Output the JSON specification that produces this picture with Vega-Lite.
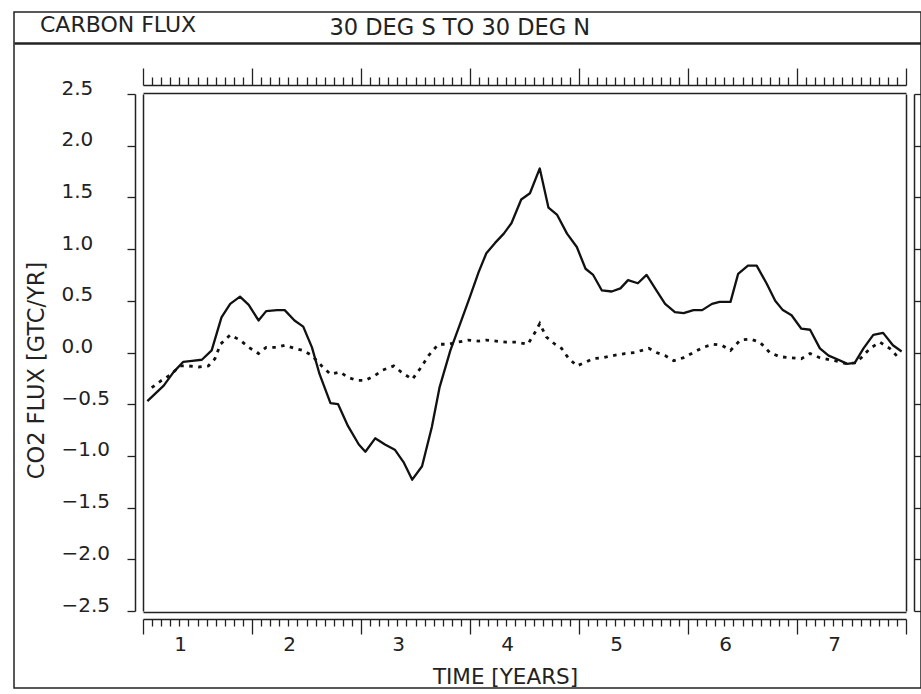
{
  "$schema": "https://vega.github.io/schema/vega-lite/v6.json",
  "width": 907,
  "height": 676,
  "autosize": {"type": "none"},
  "padding": {"left": 14, "top": 12, "right": 0, "bottom": 6},
  "background": "white",
  "title": {"text": "CARBON FLUX", "anchor": "start", "frame": "group", "orient": "top", "offset": -22, "dx": 26, "dy": 20, "baseline": "alphabetic", "fontSize": 22, "font": "DejaVu Sans", "fontWeight": "normal", "color": "#222"},
  "datasets": {
    "solid": [
      {"t": 0.70, "flux": -0.47}, {"t": 0.85, "flux": -0.32}, {"t": 0.94, "flux": -0.19}, {"t": 1.03, "flux": -0.09},
      {"t": 1.11, "flux": -0.08}, {"t": 1.20, "flux": -0.07}, {"t": 1.29, "flux": 0.02}, {"t": 1.38, "flux": 0.34},
      {"t": 1.46, "flux": 0.47}, {"t": 1.55, "flux": 0.54}, {"t": 1.63, "flux": 0.46}, {"t": 1.72, "flux": 0.31},
      {"t": 1.79, "flux": 0.40}, {"t": 1.89, "flux": 0.41}, {"t": 1.96, "flux": 0.41}, {"t": 2.05, "flux": 0.31},
      {"t": 2.13, "flux": 0.25}, {"t": 2.21, "flux": 0.05}, {"t": 2.28, "flux": -0.21}, {"t": 2.38, "flux": -0.49},
      {"t": 2.45, "flux": -0.50}, {"t": 2.54, "flux": -0.71}, {"t": 2.64, "flux": -0.89}, {"t": 2.70, "flux": -0.96},
      {"t": 2.79, "flux": -0.83}, {"t": 2.88, "flux": -0.89}, {"t": 2.97, "flux": -0.94}, {"t": 3.05, "flux": -1.06},
      {"t": 3.13, "flux": -1.23}, {"t": 3.22, "flux": -1.10}, {"t": 3.31, "flux": -0.72}, {"t": 3.38, "flux": -0.34},
      {"t": 3.48, "flux": 0.02}, {"t": 3.57, "flux": 0.28}, {"t": 3.66, "flux": 0.54}, {"t": 3.74, "flux": 0.78},
      {"t": 3.81, "flux": 0.96}, {"t": 3.89, "flux": 1.06}, {"t": 3.97, "flux": 1.15}, {"t": 4.04, "flux": 1.25},
      {"t": 4.13, "flux": 1.48}, {"t": 4.21, "flux": 1.54}, {"t": 4.30, "flux": 1.78}, {"t": 4.38, "flux": 1.40},
      {"t": 4.46, "flux": 1.33}, {"t": 4.55, "flux": 1.15}, {"t": 4.64, "flux": 1.02}, {"t": 4.72, "flux": 0.81},
      {"t": 4.79, "flux": 0.75}, {"t": 4.87, "flux": 0.60}, {"t": 4.96, "flux": 0.59}, {"t": 5.04, "flux": 0.62},
      {"t": 5.11, "flux": 0.70}, {"t": 5.20, "flux": 0.67}, {"t": 5.28, "flux": 0.75}, {"t": 5.37, "flux": 0.60},
      {"t": 5.45, "flux": 0.47}, {"t": 5.54, "flux": 0.39}, {"t": 5.62, "flux": 0.38}, {"t": 5.71, "flux": 0.41},
      {"t": 5.79, "flux": 0.41}, {"t": 5.88, "flux": 0.47}, {"t": 5.95, "flux": 0.49}, {"t": 6.05, "flux": 0.49},
      {"t": 6.12, "flux": 0.76}, {"t": 6.21, "flux": 0.84}, {"t": 6.29, "flux": 0.84}, {"t": 6.38, "flux": 0.67},
      {"t": 6.46, "flux": 0.50}, {"t": 6.53, "flux": 0.41}, {"t": 6.61, "flux": 0.36}, {"t": 6.70, "flux": 0.23},
      {"t": 6.78, "flux": 0.22}, {"t": 6.87, "flux": 0.04}, {"t": 6.95, "flux": -0.03}, {"t": 7.04, "flux": -0.07},
      {"t": 7.12, "flux": -0.11}, {"t": 7.19, "flux": -0.10}, {"t": 7.27, "flux": 0.04}, {"t": 7.36, "flux": 0.17},
      {"t": 7.45, "flux": 0.19}, {"t": 7.54, "flux": 0.07}, {"t": 7.62, "flux": 0.01}
    ],
    "dotted": [
      {"t": 0.74, "flux": -0.34}, {"t": 0.83, "flux": -0.27}, {"t": 0.92, "flux": -0.21}, {"t": 1.00, "flux": -0.13},
      {"t": 1.08, "flux": -0.13}, {"t": 1.17, "flux": -0.14}, {"t": 1.26, "flux": -0.13}, {"t": 1.32, "flux": -0.06},
      {"t": 1.37, "flux": 0.08}, {"t": 1.46, "flux": 0.17}, {"t": 1.55, "flux": 0.12}, {"t": 1.63, "flux": 0.05},
      {"t": 1.72, "flux": -0.01}, {"t": 1.79, "flux": 0.05}, {"t": 1.89, "flux": 0.05}, {"t": 1.96, "flux": 0.07},
      {"t": 2.05, "flux": 0.04}, {"t": 2.13, "flux": 0.02}, {"t": 2.21, "flux": -0.03}, {"t": 2.30, "flux": -0.13},
      {"t": 2.38, "flux": -0.21}, {"t": 2.47, "flux": -0.19}, {"t": 2.54, "flux": -0.24}, {"t": 2.62, "flux": -0.27},
      {"t": 2.70, "flux": -0.27}, {"t": 2.79, "flux": -0.22}, {"t": 2.86, "flux": -0.17}, {"t": 2.96, "flux": -0.13},
      {"t": 3.03, "flux": -0.19}, {"t": 3.13, "flux": -0.26}, {"t": 3.20, "flux": -0.16}, {"t": 3.28, "flux": -0.03},
      {"t": 3.37, "flux": 0.08}, {"t": 3.46, "flux": 0.08}, {"t": 3.55, "flux": 0.10}, {"t": 3.64, "flux": 0.12},
      {"t": 3.74, "flux": 0.11}, {"t": 3.81, "flux": 0.12}, {"t": 3.90, "flux": 0.11}, {"t": 3.99, "flux": 0.10},
      {"t": 4.09, "flux": 0.10}, {"t": 4.19, "flux": 0.08}, {"t": 4.26, "flux": 0.20}, {"t": 4.30, "flux": 0.28},
      {"t": 4.36, "flux": 0.15}, {"t": 4.44, "flux": 0.08}, {"t": 4.50, "flux": 0.04}, {"t": 4.56, "flux": -0.05},
      {"t": 4.64, "flux": -0.13}, {"t": 4.73, "flux": -0.09}, {"t": 4.79, "flux": -0.06}, {"t": 4.88, "flux": -0.05},
      {"t": 4.97, "flux": -0.03}, {"t": 5.08, "flux": -0.01}, {"t": 5.17, "flux": 0.00}, {"t": 5.30, "flux": 0.04},
      {"t": 5.37, "flux": 0.00}, {"t": 5.45, "flux": -0.03}, {"t": 5.53, "flux": -0.08}, {"t": 5.62, "flux": -0.05},
      {"t": 5.71, "flux": 0.00}, {"t": 5.80, "flux": 0.05}, {"t": 5.89, "flux": 0.08}, {"t": 5.97, "flux": 0.07},
      {"t": 6.05, "flux": 0.02}, {"t": 6.14, "flux": 0.12}, {"t": 6.23, "flux": 0.13}, {"t": 6.32, "flux": 0.10},
      {"t": 6.41, "flux": 0.00}, {"t": 6.50, "flux": -0.04}, {"t": 6.59, "flux": -0.05}, {"t": 6.70, "flux": -0.06},
      {"t": 6.78, "flux": -0.01}, {"t": 6.87, "flux": -0.05}, {"t": 6.96, "flux": -0.07}, {"t": 7.05, "flux": -0.09},
      {"t": 7.12, "flux": -0.11}, {"t": 7.19, "flux": -0.10}, {"t": 7.25, "flux": -0.05}, {"t": 7.33, "flux": 0.04},
      {"t": 7.42, "flux": 0.10}, {"t": 7.51, "flux": 0.04}, {"t": 7.60, "flux": -0.06}
    ]
  },
  "resolve": {
    "scale": {"x": "independent", "y": "independent"},
    "axis": {"x": "independent", "y": "independent"}
  },
  "layer": [
    {
      "data": {"name": "solid"},
      "mark": {"type": "line", "color": "#111", "strokeWidth": 2.3, "strokeJoin": "round"},
      "encoding": {
        "x": {"field": "t", "type": "quantitative",
          "scale": {"domain": [0.66, 7.66], "range": [129, 892], "nice": false, "zero": false},
          "axis": {"orient": "bottom", "offset": -69, "values": [1, 2, 3, 4, 5, 6, 7], "format": "d",
            "ticks": false, "tickSize": 0, "domain": false, "labelPadding": 31, "labelBaseline": "alphabetic",
            "labelFlush": false, "labelOverlap": false,
            "title": "TIME [YEARS]", "titleFontSize": 21.5, "titleX": 491, "titleY": 64, "titleAlign": "center", "titleBaseline": "alphabetic"}},
        "y": {"field": "flux", "type": "quantitative",
          "scale": {"domain": [-2.5, 2.5], "range": [599, 82], "nice": false, "zero": false},
          "axis": {"orient": "left", "offset": -121, "values": [-2.5, -2, -1.5, -1, -0.5, 0, 0.5, 1, 1.5, 2, 2.5],
            "format": ".1f", "tickSize": 8, "labelAlign": "left", "labelBaseline": "alphabetic", "labelPadding": 66,
            "labelFlush": false, "labelOverlap": false,
            "title": "CO2 FLUX [GTC/YR]", "titleFontSize": 22.5, "titleX": -92, "titleY": 358, "titleAngle": -90, "titleAlign": "center", "titleBaseline": "alphabetic"}}
      }
    },
    {
      "data": {"name": "dotted"},
      "mark": {"type": "line", "color": "#111", "strokeWidth": 2.8, "strokeDash": [3.5, 5.5]},
      "encoding": {
        "x": {"field": "t", "type": "quantitative",
          "scale": {"domain": [0.66, 7.66], "range": [129, 892], "nice": false, "zero": false},
          "axis": {"orient": "bottom", "offset": -69, "labels": false, "title": null, "domain": true,
            "values": [0.66, 0.7433, 0.8267, 0.91, 0.9933, 1.0767, 1.16, 1.2433, 1.3267, 1.41, 1.4933, 1.5767,
              1.66, 1.7433, 1.8267, 1.91, 1.9933, 2.0767, 2.16, 2.2433, 2.3267, 2.41, 2.4933, 2.5767,
              2.66, 2.7433, 2.8267, 2.91, 2.9933, 3.0767, 3.16, 3.2433, 3.3267, 3.41, 3.4933, 3.5767,
              3.66, 3.7433, 3.8267, 3.91, 3.9933, 4.0767, 4.16, 4.2433, 4.3267, 4.41, 4.4933, 4.5767,
              4.66, 4.7433, 4.8267, 4.91, 4.9933, 5.0767, 5.16, 5.2433, 5.3267, 5.41, 5.4933, 5.5767,
              5.66, 5.7433, 5.8267, 5.91, 5.9933, 6.0767, 6.16, 6.2433, 6.3267, 6.41, 6.4933, 6.5767,
              6.66, 6.7433, 6.8267, 6.91, 6.9933, 7.0767, 7.16, 7.2433, 7.3267, 7.41, 7.4933, 7.5767, 7.66],
            "tickSize": {"condition": {"test": "abs(datum.value - 0.66 - round(datum.value - 0.66)) < 0.01", "value": 15}, "value": 7}}},
        "y": {"field": "flux", "type": "quantitative",
          "scale": {"domain": [-2.5, 2.5], "range": [599, 82], "nice": false, "zero": false},
          "axis": {"orient": "right", "offset": -7, "values": [-2.5, -2, -1.5, -1, -0.5, 0, 0.5, 1, 1.5, 2, 2.5],
            "labels": false, "tickSize": 8, "title": null}}
      }
    },
    {
      "data": {"name": "solid"},
      "mark": {"type": "point", "opacity": 0},
      "encoding": {
        "x": {"field": "t", "type": "quantitative",
          "scale": {"domain": [0.66, 7.66], "range": [129, 892], "nice": false, "zero": false},
          "axis": {"orient": "top", "offset": -73, "labels": false, "title": null, "domain": true,
            "values": [0.66, 0.7433, 0.8267, 0.91, 0.9933, 1.0767, 1.16, 1.2433, 1.3267, 1.41, 1.4933, 1.5767,
              1.66, 1.7433, 1.8267, 1.91, 1.9933, 2.0767, 2.16, 2.2433, 2.3267, 2.41, 2.4933, 2.5767,
              2.66, 2.7433, 2.8267, 2.91, 2.9933, 3.0767, 3.16, 3.2433, 3.3267, 3.41, 3.4933, 3.5767,
              3.66, 3.7433, 3.8267, 3.91, 3.9933, 4.0767, 4.16, 4.2433, 4.3267, 4.41, 4.4933, 4.5767,
              4.66, 4.7433, 4.8267, 4.91, 4.9933, 5.0767, 5.16, 5.2433, 5.3267, 5.41, 5.4933, 5.5767,
              5.66, 5.7433, 5.8267, 5.91, 5.9933, 6.0767, 6.16, 6.2433, 6.3267, 6.41, 6.4933, 6.5767,
              6.66, 6.7433, 6.8267, 6.91, 6.9933, 7.0767, 7.16, 7.2433, 7.3267, 7.41, 7.4933, 7.5767, 7.66],
            "tickSize": {"condition": {"test": "abs(datum.value - 0.66 - round(datum.value - 0.66)) < 0.01", "value": 17}, "value": 8}}},
        "y": {"field": "flux", "type": "quantitative",
          "scale": {"domain": [-2.5, 2.5], "range": [599, 82], "nice": false, "zero": false},
          "axis": {"orient": "left", "offset": -129, "labels": false, "ticks": false, "title": null}}
      }
    },
    {
      "data": {"name": "solid"},
      "mark": {"type": "point", "opacity": 0},
      "encoding": {
        "x": {"field": "t", "type": "quantitative",
          "scale": {"domain": [0.66, 7.66], "range": [129, 892], "nice": false, "zero": false},
          "axis": {"orient": "top", "offset": -81, "labels": false, "ticks": false, "title": null}},
        "y": {"field": "flux", "type": "quantitative",
          "scale": {"domain": [-2.5, 2.5], "range": [599, 82], "nice": false, "zero": false},
          "axis": {"orient": "right", "offset": -15, "labels": false, "ticks": false, "title": null}}
      }
    },
    {
      "data": {"name": "solid"},
      "mark": {"type": "point", "opacity": 0},
      "encoding": {
        "x": {"field": "t", "type": "quantitative",
          "scale": {"domain": [0.66, 7.66], "range": [129, 892], "nice": false, "zero": false},
          "axis": {"orient": "bottom", "offset": -76, "labels": false, "ticks": false, "title": null}},
        "y": {"field": "flux", "type": "quantitative",
          "scale": {"domain": [-2.5, 2.5], "range": [599, 82], "nice": false, "zero": false},
          "axis": null}
      }
    },
    {
      "data": {"name": "solid"},
      "mark": {"type": "point", "opacity": 0},
      "encoding": {
        "x": {"field": "t", "type": "quantitative",
          "scale": {"domain": [0.66, 7.66], "nice": false, "zero": false},
          "axis": {"orient": "top", "offset": -31, "labels": false, "ticks": false, "domainWidth": 2.5,
            "title": "30 DEG S TO 30 DEG N", "titleFontSize": 22.5, "titleX": 315, "titleY": -9, "titleAlign": "left", "titleBaseline": "alphabetic", "titleAngle": 0}}
      }
    }
  ],
  "config": {
    "view": {"stroke": "#222", "strokeWidth": 1.5},
    "axis": {"grid": false, "labelFont": "DejaVu Sans", "titleFont": "DejaVu Sans", "labelColor": "#222", "titleColor": "#222",
      "domainColor": "#222", "tickColor": "#222", "labelFontSize": 20, "titleFontSize": 20, "titleFontWeight": "normal",
      "domainWidth": 1.5, "tickWidth": 1.3}
  }
}
